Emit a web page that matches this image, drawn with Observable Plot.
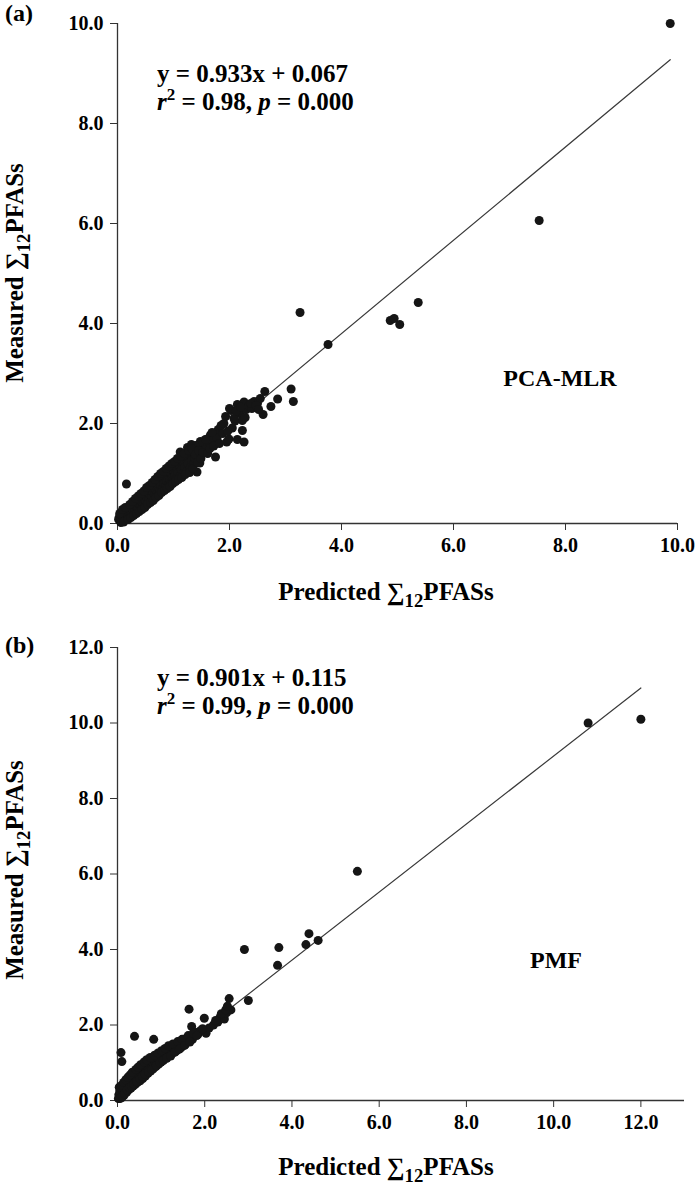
<!DOCTYPE html>
<html><head><meta charset="utf-8">
<script src="https://cdn.jsdelivr.net/npm/d3@7"></script>
<script src="https://cdn.jsdelivr.net/npm/@observablehq/plot@0.6"></script>
<style>
body{margin:0;background:#fff;}
#chart{width:700px;}
#chart svg{display:block;}
</style></head><body><div id="chart"></div>
<script>
// ---------- Panel (a): PCA-MLR ----------
const predA = [0.02,0.03,0.05,0.05,0.07,0.08,0.10,0.10,0.12,0.13,0.15,0.16,0.17,0.18,0.20,0.21,0.23,0.25,0.26,0.28,0.30,0.31,0.33,0.35,0.36,0.38,0.40,0.41,0.43,0.45,0.46,0.48,0.50,0.51,0.53,
0.55,0.56,0.58,0.60,0.61,0.63,0.65,0.66,0.68,0.70,0.71,0.73,0.75,0.76,0.78,0.80,0.81,0.83,0.85,0.86,0.88,0.90,0.91,0.93,0.95,0.96,0.98,
1.00,1.01,1.03,1.05,1.06,1.08,1.10,1.12,1.12,1.14,1.16,1.18,1.20,1.22,1.24,1.26,1.28,1.30,1.32,1.34,1.36,1.38,1.40,1.42,1.44,1.46,1.47,1.48,1.50,
1.25,1.32,1.40,1.55,1.60,
1.52,1.55,1.58,1.62,1.66,1.68,1.70,1.75,1.75,1.78,1.80,1.85,1.88,1.93,1.95,1.99,2.03,2.05,
2.10,2.14,2.14,2.18,2.23,2.23,2.26,2.26,2.30,2.35,2.40,2.44,2.50,2.55,2.60,2.63,2.74,2.86,3.10,3.14,
0.04,0.06,0.09,0.11,0.14,0.19,0.22,0.24,0.27,0.29,0.32,0.34,0.37,0.39,0.42,0.44,0.47,0.49,0.52,0.54,0.57,0.59,0.62,0.64,0.67,0.69,0.72,0.74,0.77,0.79,
0.82,0.84,0.87,0.89,0.92,0.94,0.97,0.99,1.02,1.04,1.07,1.09,1.13,1.15,1.19,1.21,1.27,1.29,1.33,1.35,1.39,1.43,1.45,1.49,1.53,1.57,1.61,1.65,1.69,1.72,
1.82,1.90,1.97,2.00,2.08,2.12,2.20,2.28,2.38,2.47,2.52,
3.26,3.76,4.87,4.94,5.04,5.37,7.53,9.87];
const measA = [0.08,0.12,0.05,0.18,0.10,0.20,0.14,0.06,0.22,0.15,0.10,0.79,0.25,0.18,0.30,0.14,0.24,0.35,0.20,0.28,0.40,0.25,0.34,0.45,0.30,0.38,0.50,0.34,0.44,0.55,0.38,0.48,0.60,0.44,0.52,
0.65,0.48,0.58,0.70,0.52,0.62,0.75,0.58,0.68,0.80,0.62,0.72,0.85,0.66,0.76,0.90,0.70,0.80,0.93,0.74,0.84,0.98,0.78,0.88,1.02,0.82,0.92,
1.06,0.86,0.97,1.12,0.90,1.02,1.18,1.43,0.95,1.08,1.25,1.00,1.13,1.30,1.05,1.20,1.38,1.12,1.26,1.44,1.18,1.30,1.50,1.03,1.36,1.55,1.21,1.64,1.40,
1.52,1.58,1.56,1.60,1.55,
1.62,1.45,1.50,1.70,1.77,1.58,1.66,1.33,1.80,1.72,1.88,1.96,1.80,2.14,1.63,1.69,2.26,1.91,
2.05,2.38,1.68,2.20,2.06,1.86,2.43,1.63,2.28,2.35,2.30,2.44,2.40,2.50,2.18,2.64,2.34,2.49,2.69,2.44,
0.20,0.02,0.28,0.03,0.32,0.08,0.38,0.12,0.44,0.16,0.50,0.20,0.55,0.24,0.60,0.28,0.65,0.32,0.72,0.38,0.76,0.42,0.82,0.46,0.88,0.52,0.94,0.56,1.00,0.62,
1.04,0.66,1.10,0.70,1.15,0.74,1.20,0.80,1.24,0.84,1.30,0.88,1.34,0.92,1.40,0.98,1.46,1.02,1.50,1.10,1.38,1.22,1.46,1.30,1.42,1.68,1.40,1.50,1.82,1.55,
1.60,2.00,1.85,2.30,2.10,2.25,2.33,2.12,2.40,2.36,2.28,
4.22,3.58,4.06,4.10,3.98,4.42,6.06,10.0];
const slopeA = 0.933, interceptA = 0.067, r2A = "0.98", pA = "0.000";
const xTicksA = [0, 2, 4, 6, 8, 10];
const yTicksA = [0, 2, 4, 6, 8, 10];

// ---------- Panel (b): PMF ----------
const predB = [0.02,0.03,0.05,0.05,0.07,0.08,0.10,0.10,0.12,0.13,0.15,0.17,0.18,0.20,0.21,0.23,0.25,0.26,0.28,0.30,0.31,0.33,0.35,0.36,0.38,0.39,0.40,0.41,0.43,0.45,0.46,0.48,0.50,0.52,0.54,0.56,0.58,0.60,0.62,0.64,0.66,0.68,0.70,0.72,0.74,0.76,0.78,0.80,0.83,0.82,0.84,0.86,0.88,0.90,0.92,0.94,0.96,0.98,
1.00,1.02,1.04,1.06,1.08,1.10,1.12,1.15,1.18,1.20,1.23,1.26,1.28,1.30,1.34,1.36,1.40,1.43,1.46,1.50,1.52,1.55,1.58,1.60,1.64,1.64,1.68,1.70,1.72,1.76,1.80,1.85,1.90,1.99,2.03,2.10,2.20,2.30,2.35,2.40,2.45,2.50,2.56,2.60,3.00,
0.04,0.06,0.09,0.11,0.14,0.16,0.19,0.22,0.24,0.27,0.29,0.32,0.34,0.37,0.42,0.44,0.47,0.51,0.53,0.57,0.61,0.63,0.67,0.71,0.75,0.79,0.85,0.89,0.93,0.97,
1.01,1.05,1.09,1.13,1.17,1.22,1.27,1.32,1.38,1.42,1.48,1.54,1.62,1.66,1.74,1.82,1.95,2.25,2.38,2.48,2.52,
2.91,3.70,3.67,4.32,4.39,4.60,5.50,10.79,12.00];
const measB = [0.05,0.15,0.10,0.25,0.18,1.27,1.03,0.08,0.30,0.20,0.14,0.35,0.25,0.42,0.22,0.32,0.48,0.28,0.40,0.55,0.33,0.45,0.60,0.38,0.50,1.70,0.65,0.43,0.55,0.70,0.48,0.60,0.74,0.52,0.66,0.80,0.58,0.70,0.86,0.65,0.76,0.90,0.72,0.82,0.96,0.78,0.88,1.00,1.62,0.84,0.94,1.05,0.90,0.98,1.12,0.96,1.05,1.18,
1.02,1.12,1.25,1.08,1.18,1.30,1.14,1.25,1.35,1.20,1.32,1.40,1.27,1.36,1.46,1.32,1.42,1.55,1.40,1.50,1.62,1.48,1.58,1.66,1.60,2.42,1.70,1.96,1.62,1.74,1.80,1.76,1.85,2.18,1.78,1.92,2.00,2.08,2.20,2.26,2.16,2.32,2.70,2.40,2.65,
0.35,0.05,0.40,0.12,0.48,0.18,0.55,0.28,0.62,0.34,0.68,0.38,0.75,0.44,0.82,0.50,0.88,0.58,0.95,0.64,1.02,0.70,1.08,0.76,1.14,0.82,1.20,0.92,1.26,1.00,
1.32,1.06,1.38,1.12,1.45,1.18,1.50,1.28,1.56,1.36,1.62,1.46,1.72,1.55,1.78,1.72,1.90,2.12,2.30,2.40,2.50,
4.00,4.05,3.58,4.13,4.42,4.24,6.07,10.00,10.10];
const slopeB = 0.901, interceptB = 0.115, r2B = "0.99", pB = "0.000";
const xTicksB = [0, 2, 4, 6, 8, 10, 12];
const yTicksB = [0, 2, 4, 6, 8, 10, 12];

// ---------- Text ----------
const panelTags = ["(a)", "(b)"];
const methodNames = ["PCA-MLR", "PMF"];
const xTitle = [{t: "Predicted ∑"}, {t: "12", sub: true}, {t: "PFASs"}];
const yTitle = [{t: "Measured ∑"}, {t: "12", sub: true}, {t: "PFASs"}];

const FONT = "'Liberation Serif','Times New Roman',serif";

function rich(sel, x, y, parts, {anchor = "start", size = 18, rotate = 0, weight = "bold"} = {}) {
  const t = sel.append("text")
    .attr("x", x).attr("y", y)
    .attr("text-anchor", anchor)
    .attr("font-family", FONT)
    .attr("font-size", size)
    .attr("font-weight", weight)
    .attr("fill", "#000");
  if (rotate) t.attr("transform", `rotate(${rotate},${x},${y})`);
  let off = 0;
  for (const p of parts) {
    const ts = t.append("tspan").text(p.t);
    let target = 0;
    if (p.sub) { target = size * 0.28; ts.attr("font-size", size * 0.75); }
    if (p.sup) { target = -size * 0.4; ts.attr("font-size", size * 0.68); }
    if (p.italic) ts.attr("font-style", "italic");
    if (target - off !== 0) ts.attr("dy", target - off);
    off = target;
  }
  return t;
}

function panel({pred, meas, slope, intercept, xDomain, yDomain, xTicks, yTicks, height, mt, mb, mr,
                tag, tagY, method, methodX, methodY, eqX, eqY, r2, p, xTitleY, yTitleY}) {
  const pts = pred.map((x, i) => ({x, y: meas[i]}));
  const [x0, x1] = d3.extent(pred);
  const fit = [x0, x1].map(x => ({x, y: slope * x + intercept}));
  const svg = Plot.plot({
    width: 700, height,
    marginLeft: 117, marginRight: mr, marginTop: mt, marginBottom: mb,
    style: {fontFamily: FONT, fontSize: "20px", fontWeight: "bold", color: "#000", background: "#fff", overflow: "visible"},
    x: {domain: xDomain},
    y: {domain: yDomain},
    marks: [
      Plot.axisX(xTicks, {tickSize: 7, tickPadding: 7, tickFormat: d => d.toFixed(1), label: null, stroke: "#333"}),
      Plot.axisY(yTicks, {tickSize: 7, tickPadding: 7, tickFormat: d => d.toFixed(1), label: null, stroke: "#333"}),
      Plot.ruleY([0], {stroke: "#333", strokeWidth: 1.3}),
      Plot.ruleX([0], {stroke: "#333", strokeWidth: 1.3}),
      Plot.line(fit, {x: "x", y: "y", stroke: "#3a3a3a", strokeWidth: 1.2}),
      Plot.dot(pts, {x: "x", y: "y", r: 4.5, fill: "#151515", stroke: "none"})
    ]
  });
  const s = d3.select(svg);
  rich(s, 5, tagY, [{t: tag}], {size: 24});
  rich(s, eqX, eqY, [{t: `y = ${slope.toFixed(3)}x + ${intercept.toFixed(3)}`}], {size: 25});
  rich(s, eqX, eqY + 28, [{t: "r", italic: true}, {t: "2", sup: true}, {t: ` = ${r2}, `}, {t: "p", italic: true}, {t: ` = ${p}`}], {size: 25});
  rich(s, methodX, methodY, [{t: method}], {anchor: "middle", size: 24});
  rich(s, 386, xTitleY, xTitle, {anchor: "middle", size: 25});
  rich(s, 23, yTitleY, yTitle, {anchor: "middle", size: 25, rotate: -90});
  return svg;
}

const root = document.getElementById("chart");
root.append(panel({
  pred: predA, meas: measA, slope: slopeA, intercept: interceptA,
  xDomain: [0, 10], yDomain: [0, 10], xTicks: xTicksA, yTicks: yTicksA,
  height: 608, mt: 23, mb: 85, mr: 23,
  tag: panelTags[0], tagY: 21, method: methodNames[0], methodX: 560, methodY: 386,
  eqX: 157, eqY: 82, r2: r2A, p: pA, xTitleY: 600, yTitleY: 273
}));
root.append(panel({
  pred: predB, meas: measB, slope: slopeB, intercept: interceptB,
  xDomain: [0, 13], yDomain: [0, 12], xTicks: xTicksB, yTicks: yTicksB,
  height: 585, mt: 39, mb: 93, mr: 16,
  tag: panelTags[1], tagY: 45, method: methodNames[1], methodX: 556, methodY: 968 - 608,
  eqX: 157, eqY: 686 - 608, r2: r2B, p: pB, xTitleY: 1175 - 608, yTitleY: 870 - 608
}));
</script>
</body></html>
